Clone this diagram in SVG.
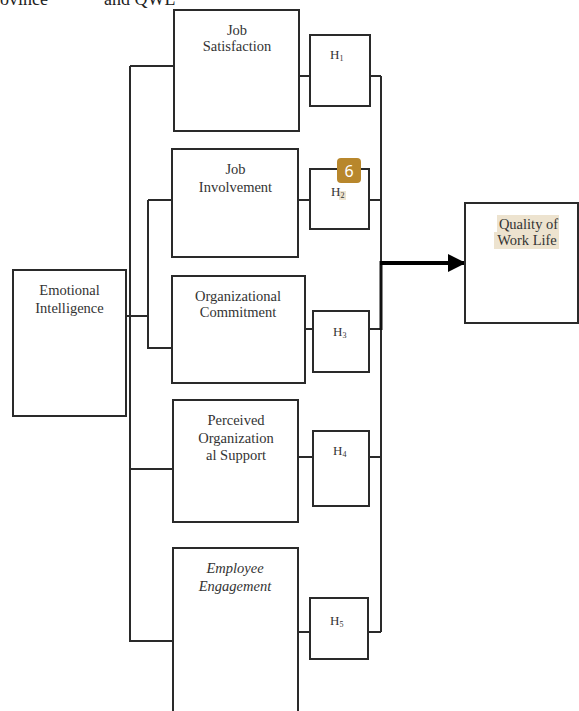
<svg xmlns="http://www.w3.org/2000/svg" width="579" height="711" viewBox="0 0 579 711">
<style>
.box{fill:#fff;stroke:#2a2a2a;stroke-width:2}
.ln{fill:none;stroke:#2a2a2a;stroke-width:2}
.t{font-family:"Liberation Serif","Times New Roman",serif;font-size:14.5px;fill:#333;text-anchor:middle}
.h{font-family:"Liberation Serif","Times New Roman",serif;font-size:13px;fill:#333}
.s{font-size:8px}
</style>
<defs>
<marker id="arr" viewBox="0 0 10 10" refX="9.5" refY="5" markerWidth="4.5" markerHeight="4.5" markerUnits="strokeWidth" orient="auto">
<path d="M0,0 L10,5 L0,10 Z" fill="#000"/>
</marker>
</defs>
<rect width="579" height="711" fill="#fff"/>
<text x="0" y="5" style="font-family:'Liberation Serif',serif;font-size:18px;fill:#222">ovince</text>
<text x="104" y="5" style="font-family:'Liberation Serif',serif;font-size:18px;fill:#222">and QWL</text>

<g id="connectors">
<path class="ln" d="M130,66 H174 M130,66 V641 H173 M130,469 H173"/>
<path class="ln" d="M123,316 H148 M148,200 V348 H172 M148,200 H172"/>
<path class="ln" d="M299,76 H310 M370,76 H381 M381,76 V632"/>
<path class="ln" d="M298,200 H310 M369,200 H381"/>
<path class="ln" d="M305,329 H313 M369,329 H381"/>
<path class="ln" d="M298,457 H313 M369,457 H381"/>
<path class="ln" d="M298,632 H310 M368,632 H381"/>
<path d="M381,261 V330" fill="none" stroke="#111" stroke-width="3"/>
<path d="M380,263 H465" fill="none" stroke="#000" stroke-width="4" marker-end="url(#arr)"/>
</g>

<g id="emotional-intelligence">
<rect class="box" x="13" y="270" width="113" height="146"/>
<text class="t" x="69.5" y="295">Emotional</text>
<text class="t" x="69.5" y="313">Intelligence</text>
</g>

<g id="job-satisfaction">
<rect class="box" x="174" y="10" width="125" height="121"/>
<text class="t" x="237" y="35">Job</text>
<text class="t" x="237" y="51">Satisfaction</text>
</g>

<g id="job-involvement">
<rect class="box" x="172" y="149" width="126" height="108"/>
<text class="t" x="235.5" y="174">Job</text>
<text class="t" x="235.5" y="192">Involvement</text>
</g>

<g id="organizational-commitment">
<rect class="box" x="172" y="276" width="133" height="107"/>
<text class="t" x="238" y="301">Organizational</text>
<text class="t" x="238" y="317">Commitment</text>
</g>

<g id="perceived-organizational-support">
<rect class="box" x="173" y="400" width="125" height="122"/>
<text class="t" x="236" y="425">Perceived</text>
<text class="t" x="236" y="443">Organization</text>
<text class="t" x="236" y="460">al Support</text>
</g>

<g id="employee-engagement">
<rect class="box" x="173" y="548" width="125" height="170"/>
<text class="t" x="235" y="573" font-style="italic">Employee</text>
<text class="t" x="235" y="591" font-style="italic">Engagement</text>
</g>

<g id="h1">
<rect class="box" x="310" y="35" width="60" height="71"/>
<text class="h" x="330" y="59">H<tspan class="s" dy="2">1</tspan></text>
</g>
<g id="h2">
<rect class="box" x="310" y="169" width="59" height="60"/>
<rect x="339" y="191" width="7" height="9" fill="#ede3cf"/>
<text class="h" x="331" y="196">H<tspan class="s" dy="2">2</tspan></text>
</g>
<g id="h3">
<rect class="box" x="313" y="311" width="56" height="61"/>
<text class="h" x="333" y="336">H<tspan class="s" dy="2">3</tspan></text>
</g>
<g id="h4">
<rect class="box" x="313" y="431" width="56" height="75"/>
<text class="h" x="333" y="455">H<tspan class="s" dy="2">4</tspan></text>
</g>
<g id="h5">
<rect class="box" x="310" y="598" width="58" height="61"/>
<text class="h" x="330" y="625">H<tspan class="s" dy="2">5</tspan></text>
</g>

<g id="quality-of-work-life">
<rect class="box" x="465" y="203" width="113" height="120"/>
<rect x="497" y="215" width="62" height="17" fill="#ede3cf"/>
<rect x="494" y="232" width="65" height="17" fill="#ede3cf"/>
<text class="t" x="528.5" y="229">Quality of</text>
<text class="t" x="527" y="245">Work Life</text>
</g>

<g id="badge">
<rect x="337" y="158" width="24" height="25" rx="4" fill="#b8872c"/>
<text x="349" y="177" style="font-family:'Noto Sans','DejaVu Sans',sans-serif;font-size:16px;fill:#fff;text-anchor:middle">6</text>
</g>
</svg>
